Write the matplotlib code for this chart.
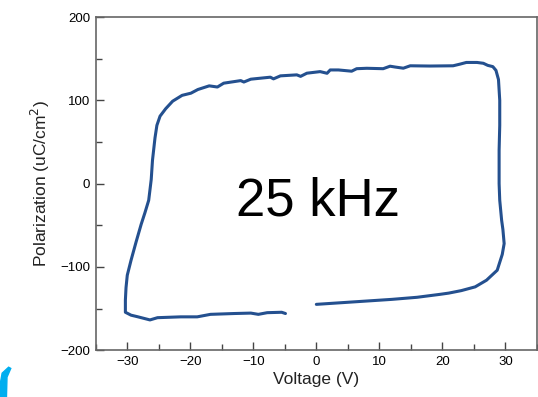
import numpy as np
import matplotlib.pyplot as plt
from matplotlib.ticker import MultipleLocator
from matplotlib.patches import Polygon

plt.rcParams['font.family'] = ['Liberation Sans', 'DejaVu Sans']

# P-E loop (voltage in V, polarization in uC/cm^2)
voltage = [0.0, 4, 8, 12, 16, 19.6, 21, 23, 25.2, 27, 28.7, 29.5, 29.8, 29.6, 29.4,
           29.1, 29.0, 29.0, 29.1, 29.1, 28.9, 28.5, 28.0, 27.2, 26.5, 25.5, 23.8,
           22.8, 21.7, 18, 14.9, 13.8, 12.5, 11.7, 10.6, 8, 6.4, 5.6, 3.5, 2.2, 1.7,
           0.6, -1.5, -2.5, -3.1, -5.7, -6.8, -7.3, -9.9, -10.4, -11.5, -12, -14.7,
           -15.7, -17, -18.8, -19.9, -21.3, -22.8, -23.9, -24.8, -25.3, -25.6, -26,
           -26.2, -26.6, -27.2, -27.8, -28.6, -29.4, -30.0, -30.2, -30.3, -30.3,
           -29.4, -28.4, -26.4, -25.2, -21.5, -18.9, -16.8, -13, -10.4, -9.2, -7.8,
           -5.5, -4.9]
polarization = [-145, -143, -141, -139, -136.5, -133, -131.5, -128.5, -124, -116, -104,
                -85, -72, -55, -44, -20, 0, 40, 70, 100, 125, 136, 140.5, 142, 144.5,
                145.5, 145.5, 143.5, 141.5, 141.2, 141.5, 138.6, 140, 141, 138, 138.5,
                138, 135, 136.5, 136.5, 132.5, 134.5, 132.6, 128.8, 130.6, 129.4, 125.8,
                127.8, 125.8, 125.4, 122, 123.7, 120.6, 116, 117.4, 113, 108.6, 106, 99,
                90, 81, 70, 55, 28, 5, -20, -35, -49, -70, -92, -110, -125, -140,
                -154.5, -158, -159.8, -163.7, -161, -160, -160, -157, -156, -155.5,
                -157, -155, -154.5, -156]

fig = plt.figure(figsize=(5.38, 3.97), dpi=100)
ax = fig.add_axes([0.178, 0.118, 0.82, 0.839])

ax.plot(voltage, polarization, color='#24508f', lw=2.2, solid_joinstyle='round',
        solid_capstyle='round')

ax.set_xlim(-35, 35)
ax.set_ylim(-200, 200)
ax.xaxis.set_major_locator(MultipleLocator(10))
ax.xaxis.set_minor_locator(MultipleLocator(5))
ax.yaxis.set_major_locator(MultipleLocator(100))
ax.yaxis.set_minor_locator(MultipleLocator(50))
ax.tick_params(which='both', direction='in', top=False, right=False,
               color='#444444', labelsize=9.5, pad=4)
ax.tick_params(which='major', length=6, width=1)
ax.tick_params(which='minor', length=4, width=1)
for s in ax.spines.values():
    s.set_color('#666666')
    s.set_linewidth(1.2)

ax.set_xlabel('Voltage (V)', fontsize=12.5, labelpad=3, color='#222222')
ax.set_ylabel('Polarization (uC/cm$^2$)', fontsize=12.5, labelpad=6, color='#222222')

ax.text(0.2, -38.8, '25 kHz', fontsize=38, ha='center', va='baseline')

# cyan logo fragment in the lower-left corner
fig.add_artist(Polygon([[0.0, 0.0], [0.012, 0.0], [0.013, 0.05], [0.02, 0.072],
                        [0.016, 0.075], [0.004, 0.06], [0.0, 0.03]],
                       closed=True, transform=fig.transFigure, color='#00aeef'))

fig.savefig('out.png', dpi=100)
